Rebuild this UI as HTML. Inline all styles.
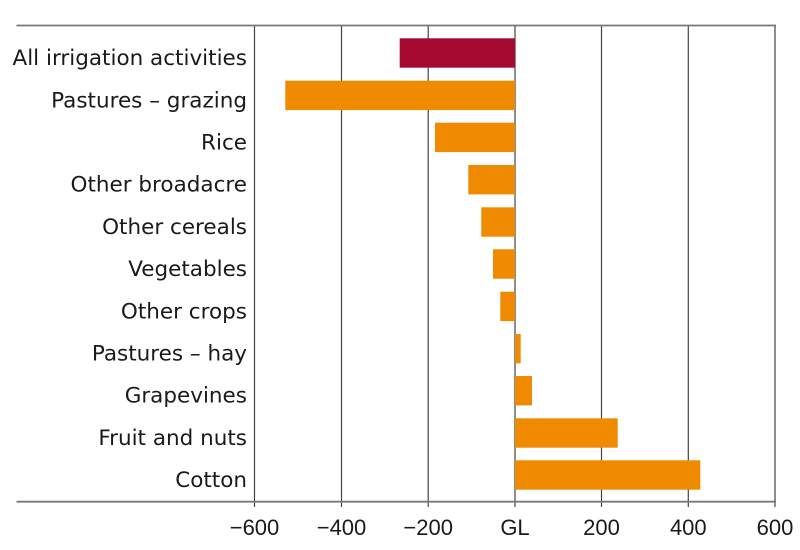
<!DOCTYPE html>
<html>
<head>
<meta charset="utf-8">
<style>
html,body{margin:0;padding:0;background:#fff;}
svg{display:block;}
.lab{font-family:"DejaVu Sans","Liberation Sans",sans-serif;font-size:21.5px;fill:#1a1a1a;}
.tick{font-family:"Liberation Sans","DejaVu Sans",sans-serif;font-size:22px;fill:#1a1a1a;}
</style>
</head>
<body>
<svg width="800" height="550" viewBox="0 0 800 550" xmlns="http://www.w3.org/2000/svg">
  <rect width="800" height="550" fill="#fff"/>
  <!-- gridlines -->
  <g stroke="#444" stroke-width="1.2">
    <line x1="254.5" y1="26" x2="254.5" y2="507"/>
    <line x1="341.5" y1="26" x2="341.5" y2="507"/>
    <line x1="428.2" y1="26" x2="428.2" y2="507"/>
    <line x1="515" y1="26" x2="515" y2="507"/>
    <line x1="601.5" y1="26" x2="601.5" y2="507"/>
    <line x1="688.3" y1="26" x2="688.3" y2="507"/>
    <line x1="775" y1="26" x2="775" y2="507"/>
  </g>
  <!-- top and bottom frame lines -->
  <line x1="16.5" y1="25.5" x2="776" y2="25.5" stroke="#787878" stroke-width="1.8"/>
  <line x1="16.5" y1="501.7" x2="776" y2="501.7" stroke="#787878" stroke-width="1.8"/>
  <!-- bars -->
  <g>
    <rect x="399.7" y="38.3" width="115.3" height="29.4" fill="#A6092F"/>
    <rect x="285.3" y="80.7" width="229.7" height="29.4" fill="#F08A00"/>
    <rect x="435" y="122.7" width="80" height="29.4" fill="#F08A00"/>
    <rect x="468.3" y="165" width="46.7" height="29.4" fill="#F08A00"/>
    <rect x="481.3" y="207.3" width="33.7" height="29.4" fill="#F08A00"/>
    <rect x="493" y="249.3" width="22" height="29.4" fill="#F08A00"/>
    <rect x="500.3" y="291.7" width="14.7" height="29.4" fill="#F08A00"/>
    <rect x="515" y="334" width="5.7" height="29.4" fill="#F08A00"/>
    <rect x="515" y="376" width="17" height="29.4" fill="#F08A00"/>
    <rect x="515" y="418.3" width="102.7" height="29.4" fill="#F08A00"/>
    <rect x="515" y="460.3" width="185.3" height="29.4" fill="#F08A00"/>
  </g>
  <!-- category labels -->
  <g class="lab" text-anchor="end">
    <text x="247" y="65">All irrigation activities</text>
    <text x="247" y="107.4">Pastures – grazing</text>
    <text x="247" y="149.4">Rice</text>
    <text x="247" y="191.7">Other broadacre</text>
    <text x="247" y="234">Other cereals</text>
    <text x="247" y="276">Vegetables</text>
    <text x="247" y="318.4">Other crops</text>
    <text x="247" y="360.7">Pastures – hay</text>
    <text x="247" y="402.7">Grapevines</text>
    <text x="247" y="445">Fruit and nuts</text>
    <text x="247" y="487">Cotton</text>
  </g>
  <!-- tick labels -->
  <g class="tick" text-anchor="middle">
    <text x="254.5" y="535">−600</text>
    <text x="341.5" y="535">−400</text>
    <text x="428.2" y="535">−200</text>
    <text x="515" y="535">GL</text>
    <text x="601.5" y="535">200</text>
    <text x="688.3" y="535">400</text>
    <text x="775" y="535">600</text>
  </g>
</svg>
</body>
</html>
